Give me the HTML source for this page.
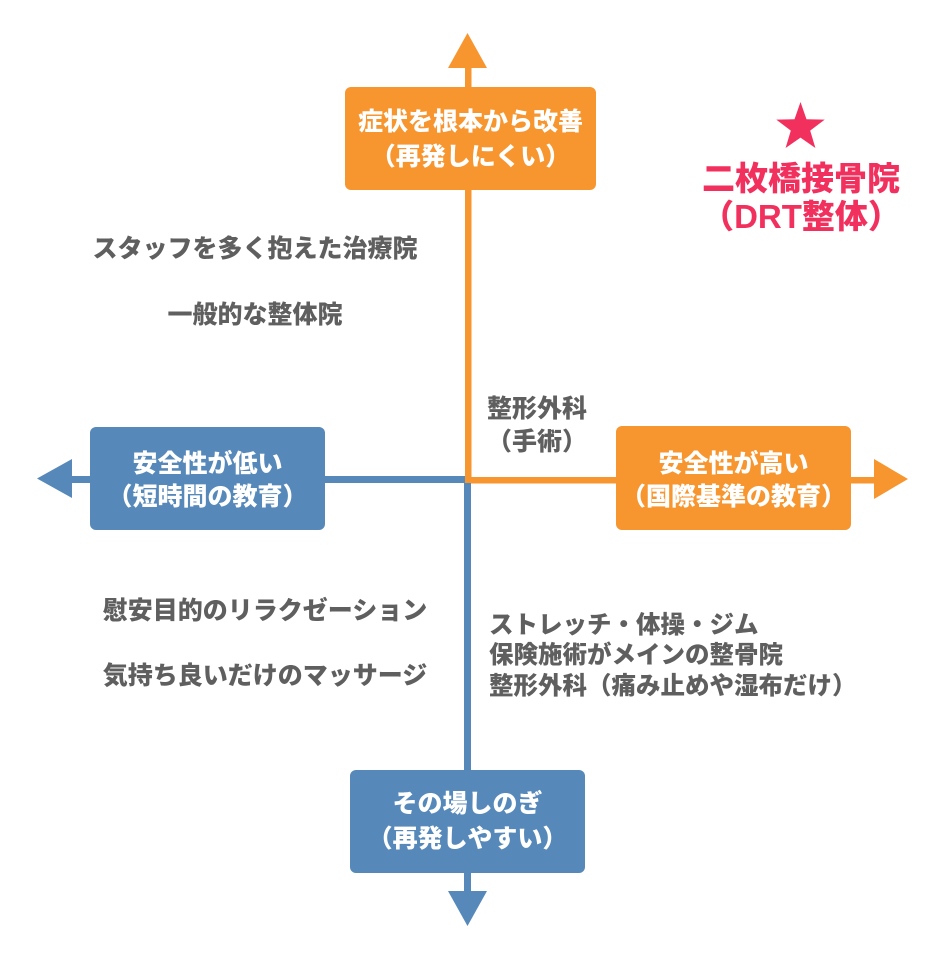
<!DOCTYPE html>
<html><head><meta charset="utf-8">
<style>
html,body{margin:0;padding:0;background:#fff;}
body{width:940px;height:957px;position:relative;overflow:hidden;font-family:"Liberation Sans","Noto Sans CJK JP",sans-serif;font-weight:900;}
svg{position:absolute;left:0;top:0;}
.t{position:absolute;white-space:nowrap;text-align:center;}
.w{color:#fff;font-size:25px;line-height:34px;height:34px;}
.g{color:#5f5f5f;font-size:25px;line-height:34px;height:34px;}
.p{color:#f2305e;font-size:33px;line-height:40px;height:40px;}
.r{color:#5f5f5f;font-size:24.5px;line-height:30px;height:30px;text-align:left;}
</style></head><body>
<svg width="940" height="957" viewBox="0 0 940 957">
  <rect x="465" y="60" width="6.5" height="423" fill="#f7952f"/>
  <polygon points="467.5,33 448,68 487,68" fill="#f7952f"/>
  <rect x="465" y="477" width="412" height="6.5" fill="#f7952f"/>
  <polygon points="908,479 874,459 874,499" fill="#f7952f"/>
  <rect x="66" y="476" width="399" height="7" fill="#5689b9"/>
  <polygon points="37,478.5 72,459 72,498" fill="#5689b9"/>
  <rect x="464" y="483" width="7" height="412" fill="#5689b9"/>
  <polygon points="467.5,926 448,891 487,891" fill="#5689b9"/>
  <rect x="345" y="87" width="251" height="103" rx="6" fill="#f7952f"/>
  <rect x="616" y="426" width="235" height="104" rx="6" fill="#f7952f"/>
  <rect x="90" y="427" width="235" height="103" rx="6" fill="#5689b9"/>
  <rect x="350" y="770" width="235" height="103" rx="6" fill="#5689b9"/>
  <polygon fill="#f2305e" points="800.5,102 806.5,119.3 824.7,119.6 810.2,130.6 815.4,148 800.5,137.6 785.6,148 790.8,130.6 776.3,119.6 794.5,119.3"/>
</svg>

<div class="t w" style="left:345px;width:251px;top:105px;">症状を根本から改善</div>
<div class="t w" style="left:345px;width:251px;top:140px;">（再発しにくい）</div>
<div class="t w" style="left:90px;width:235px;top:447px;">安全性が低い</div>
<div class="t w" style="left:90px;width:235px;top:480px;">（短時間の教育）</div>
<div class="t w" style="left:616px;width:235px;top:447px;">安全性が高い</div>
<div class="t w" style="left:616px;width:235px;top:480px;">（国際基準の教育）</div>
<div class="t w" style="left:350px;width:235px;top:787px;">その場しのぎ</div>
<div class="t w" style="left:350px;width:235px;top:822px;">（再発しやすい）</div>

<div class="t p" style="left:650px;width:302px;top:159px;">二枚橋接骨院</div>
<div class="t p" style="left:650px;width:302px;top:197px;">（DRT整体）</div>

<div class="t g" style="left:55px;width:400px;top:232px;">スタッフを多く抱えた治療院</div>
<div class="t g" style="left:55px;width:400px;top:298px;">一般的な整体院</div>
<div class="t g" style="left:437px;width:200px;top:392px;">整形外科</div>
<div class="t g" style="left:437px;width:200px;top:425px;">（手術）</div>
<div class="t g" style="left:65px;width:400px;top:594px;">慰安目的のリラクゼーション</div>
<div class="t g" style="left:65px;width:400px;top:659px;">気持ち良いだけのマッサージ</div>
<div class="t r" style="left:489px;top:611px;">ストレッチ・体操・ジム</div>
<div class="t r" style="left:489px;top:641px;">保険施術がメインの整骨院</div>
<div class="t r" style="left:489px;top:672px;">整形外科（痛み止めや湿布だけ）</div>
</body></html>
